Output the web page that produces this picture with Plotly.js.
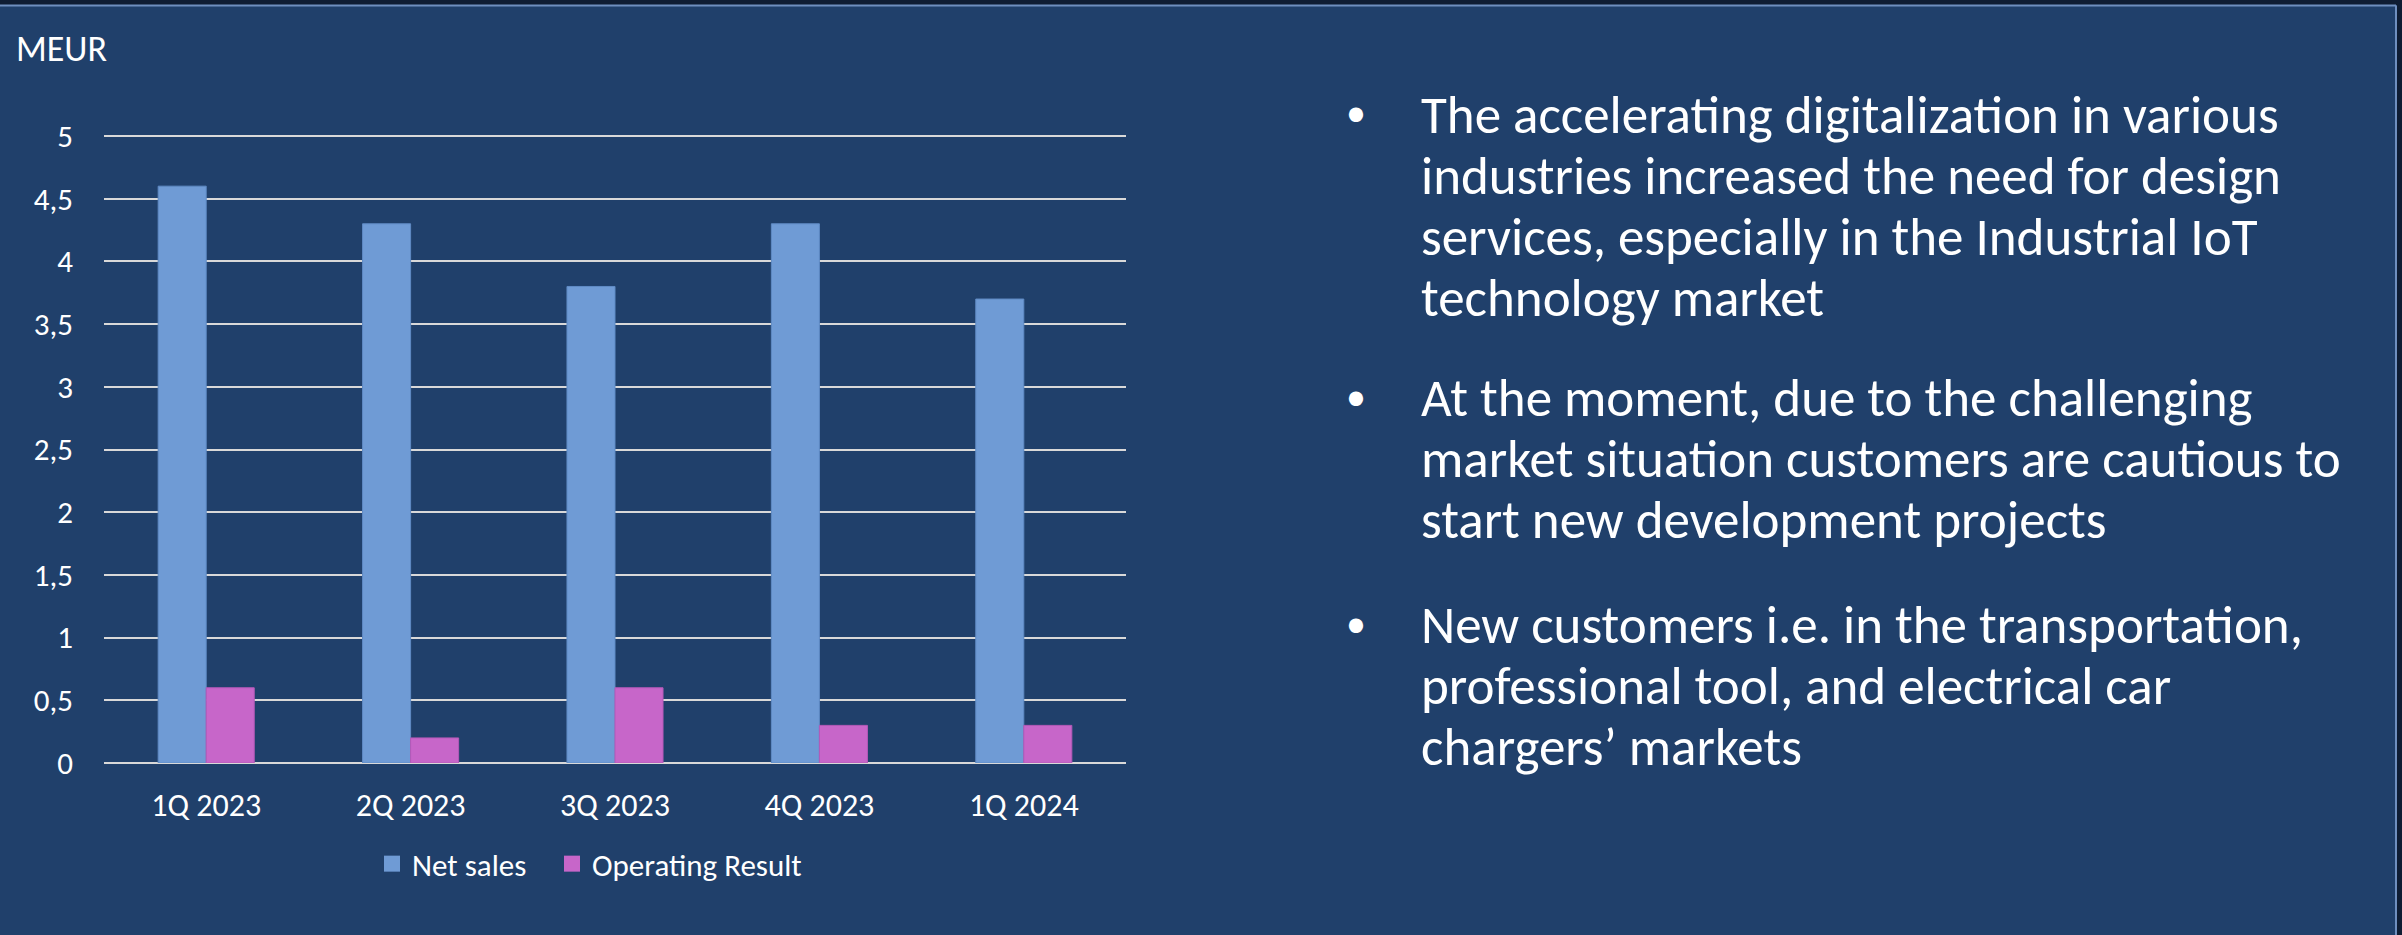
<!DOCTYPE html>
<html>
<head>
<meta charset="utf-8">
<script src="https://cdn.plot.ly/plotly-3.0.1.min.js"></script>
<style>
  html, body { margin: 0; padding: 0; background: #1f3d68; }
  #chart { width: 2402px; height: 935px; }
</style>
</head>
<body>
<div id="chart"></div>
<script>
// ---- data ----
const categories = ["1Q 2023", "2Q 2023", "3Q 2023", "4Q 2023", "1Q 2024"];
const netSales = [4.6, 4.3, 3.8, 4.3, 3.7];
const operatingResult = [0.6, 0.2, 0.6, 0.3, 0.3];
const seriesNames = ["Net sales", "Operating Result"];
const seriesColors = ["#6f9bd5", "#c766c9"];
const yTickVals = [0, 0.5, 1, 1.5, 2, 2.5, 3, 3.5, 4, 4.5, 5];
const yTickText = ["0", "0,5", "1", "1,5", "2", "2,5", "3", "3,5", "4", "4,5", "5"];
const unitLabel = "MEUR";
const bullets = [
  ["The accelerating digitalization in various", "industries increased the need for design", "services, especially in the Industrial IoT", "technology market"],
  ["At the moment, due to the challenging", "market situation customers are cautious to", "start new development projects"],
  ["New customers i.e. in the transportation,", "professional tool, and electrical car", "chargers\u2019 markets"]
];

// ---- layout helpers ----
const W = 2402, H = 935;
const PL = 104, PR = 1126, PT = 132, PB = 763, Y5 = 136;
const yTop = 5 * (PB - PT) / (PB - Y5);
const px = x => (x - PL) / (PR - PL);
const py = y => (PB - y) / (PB - PT);
const FONT = "Carlito, Calibri, 'Liberation Sans Narrow', 'Open Sans', sans-serif";

const traces = [
  { type: "bar", name: seriesNames[0], x: categories, y: netSales, showlegend: false,
    marker: { color: seriesColors[0], line: { color: "#5f8ac4", width: 1 } } },
  { type: "bar", name: seriesNames[1], x: categories, y: operatingResult, showlegend: false,
    marker: { color: seriesColors[1], line: { color: "#b459b8", width: 1 } } },
  // legend entries (square swatches like the original)
  { type: "scatter", mode: "markers", name: seriesNames[0], x: [null], y: [null], legend: "legend",
    marker: { symbol: "square", size: 16, color: seriesColors[0] } },
  { type: "scatter", mode: "markers", name: seriesNames[1], x: [null], y: [null], legend: "legend2",
    marker: { symbol: "square", size: 16, color: seriesColors[1] } }
];

const annotations = [
  { text: unitLabel, xref: "paper", yref: "paper", x: px(14), y: py(49),
    xanchor: "left", yanchor: "middle", showarrow: false,
    font: { family: FONT, size: 36, color: "#ffffff" } }
];
const paraTop = [115, 398, 625];
const LINE = 61;
bullets.forEach((lines, i) => {
  annotations.push({ text: "\u2022", xref: "paper", yref: "paper",
    x: px(1356), y: py(paraTop[i] - 2), xanchor: "center", yanchor: "middle",
    showarrow: false, font: { family: FONT, size: 40, color: "#ffffff" } });
  lines.forEach((ln, j) => {
    annotations.push({ text: ln, xref: "paper", yref: "paper",
      x: px(1419), y: py(paraTop[i] + j * LINE), xanchor: "left", yanchor: "middle",
      showarrow: false, align: "left", font: { family: FONT, size: 53, color: "#ffffff" } });
  });
});

const shapes = [
  { type: "rect", xref: "paper", yref: "paper", x0: px(0), x1: px(W), y0: py(0), y1: py(5),
    fillcolor: "#0f1d33", line: { width: 0 }, layer: "below" },
  { type: "rect", xref: "paper", yref: "paper", x0: px(2397), x1: px(W), y0: py(0), y1: py(H),
    fillcolor: "#0f1d33", line: { width: 0 }, layer: "below" },
  { type: "line", xref: "paper", yref: "paper", x0: px(0), x1: px(2396), y0: py(5.5), y1: py(5.5),
    line: { color: "#6f8fbf", width: 2 }, layer: "below" },
  { type: "line", xref: "paper", yref: "paper", x0: px(2396), x1: px(2396), y0: py(5.5), y1: py(H),
    line: { color: "#6f8fbf", width: 2 }, layer: "below" }
];

const legendBase = {
  orientation: "h", xanchor: "left", yanchor: "middle", y: py(864),
  font: { family: FONT, size: 31, color: "#ffffff" }, bgcolor: "rgba(0,0,0,0)", itemwidth: 30
};

const layout = {
  width: W, height: H,
  margin: { l: PL, r: W - PR, t: PT, b: H - PB, pad: 0 },
  paper_bgcolor: "#20406b",
  plot_bgcolor: "rgba(0,0,0,0)",
  font: { family: FONT, color: "#ffffff", size: 30 },
  barmode: "group",
  bargap: 0.53,
  bargroupgap: 0,
  showlegend: true,
  legend: Object.assign({}, legendBase, { x: px(372) }),
  legend2: Object.assign({}, legendBase, { x: px(552) }),
  xaxis: { type: "category", showgrid: false, zeroline: false, showline: false,
    ticks: "", tickfont: { family: FONT, size: 32, color: "#ffffff" }, ticklabelstandoff: 20,
    fixedrange: true },
  yaxis: { range: [0, yTop], tickvals: yTickVals, ticktext: yTickText,
    showgrid: true, gridcolor: "#d9d9d9", gridwidth: 2,
    zeroline: true, zerolinecolor: "#d9d9d9", zerolinewidth: 2, showline: false,
    ticks: "", tickfont: { family: FONT, size: 31, color: "#ffffff" }, ticklabelstandoff: 30,
    fixedrange: true },
  annotations: annotations,
  shapes: shapes
};

Plotly.newPlot("chart", traces, layout, { displayModeBar: false, staticPlot: true });
</script>
</body>
</html>
